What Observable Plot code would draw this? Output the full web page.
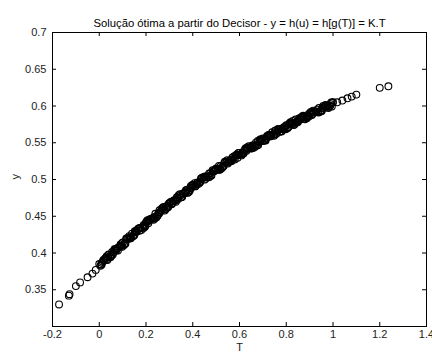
<!DOCTYPE html>
<html>
<head>
<meta charset="utf-8">
<script src="https://cdn.jsdelivr.net/npm/d3@7"></script>
<script src="https://cdn.jsdelivr.net/npm/@observablehq/plot@0.6"></script>
<style>
  html, body { margin: 0; padding: 0; background: #fff; }
</style>
</head>
<body>
<div id="chart"></div>
<script>
const titleText = "Solução ótima a partir do Decisor - y = h(u) = h[g(T)] = K.T";
const xLabel = "T";
const yLabel = "y";
const xTicks = [-0.2, 0, 0.2, 0.4, 0.6, 0.8, 1, 1.2, 1.4];
const yTicks = [0.35, 0.4, 0.45, 0.5, 0.55, 0.6, 0.65, 0.7];
const xDomain = [-0.2, 1.4];
const yDomain = [0.3, 0.7];

// sparse points at the low end
const tLow = [-0.172, -0.130, -0.127, -0.100, -0.082, -0.050, -0.029, -0.015];
const yLow = [0.330, 0.342, 0.344, 0.355, 0.360, 0.367, 0.372, 0.377];

// dense band, pass A
const tBandA = [0.00,0.01,0.02,0.03,0.04,0.05,0.06,0.07,0.08,0.09,
  0.10,0.11,0.12,0.13,0.14,0.15,0.16,0.17,0.18,0.19,
  0.20,0.21,0.22,0.23,0.24,0.25,0.26,0.27,0.28,0.29,
  0.30,0.31,0.32,0.33,0.34,0.35,0.36,0.37,0.38,0.39,
  0.40,0.41,0.42,0.43,0.44,0.45,0.46,0.47,0.48,0.49,
  0.50,0.51,0.52,0.53,0.54,0.55,0.56,0.57,0.58,0.59,
  0.60,0.61,0.62,0.63,0.64,0.65,0.66,0.67,0.68,0.69,
  0.70,0.71,0.72,0.73,0.74,0.75,0.76,0.77,0.78,0.79,
  0.80,0.81,0.82,0.83,0.84,0.85,0.86,0.87,0.88,0.89,
  0.90,0.91,0.92,0.93,0.94,0.95,0.96,0.97,0.98,0.99,1.00];
const yBandA = [0.3850,0.3840,0.3900,0.3910,0.3979,0.3958,0.4007,0.4056,0.4035,0.4104,
  0.4142,0.4130,0.4188,0.4196,0.4264,0.4242,0.4290,0.4337,0.4314,0.4381,
  0.4418,0.4405,0.4461,0.4468,0.4534,0.4510,0.4556,0.4602,0.4577,0.4643,
  0.4678,0.4663,0.4718,0.4723,0.4788,0.4762,0.4806,0.4850,0.4824,0.4888,
  0.4922,0.4906,0.4959,0.4962,0.5025,0.4998,0.5041,0.5084,0.5056,0.5118,
  0.5150,0.5132,0.5184,0.5186,0.5247,0.5218,0.5259,0.5300,0.5271,0.5332,
  0.5362,0.5342,0.5392,0.5392,0.5452,0.5422,0.5462,0.5501,0.5470,0.5529,
  0.5558,0.5537,0.5585,0.5584,0.5642,0.5610,0.5648,0.5686,0.5653,0.5710,
  0.5738,0.5715,0.5762,0.5759,0.5816,0.5782,0.5818,0.5854,0.5820,0.5876,
  0.5902,0.5878,0.5923,0.5918,0.5973,0.5938,0.5973,0.6008,0.5972,0.6026,0.6050];

// dense band, pass B
const tBandB = [0.005,0.025,0.045,0.065,0.085,0.105,0.125,0.145,0.165,0.185,
  0.205,0.225,0.245,0.265,0.285,0.305,0.325,0.345,0.365,0.385,
  0.405,0.425,0.445,0.465,0.485,0.505,0.525,0.545,0.565,0.585,
  0.605,0.625,0.645,0.665,0.685,0.705,0.725,0.745,0.765,0.785,
  0.805,0.825,0.845,0.865,0.885,0.905,0.925,0.945,0.965,0.985];
const yBandB = [0.3825,0.3925,0.3954,0.4052,0.4080,0.4106,0.4202,0.4228,0.4324,0.4348,
  0.4442,0.4465,0.4487,0.4579,0.4600,0.4691,0.4711,0.4800,0.4818,0.4836,
  0.4924,0.4941,0.5027,0.5043,0.5127,0.5141,0.5155,0.5238,0.5250,0.5332,
  0.5342,0.5422,0.5432,0.5442,0.5520,0.5528,0.5605,0.5611,0.5687,0.5692,
  0.5697,0.5771,0.5774,0.5846,0.5848,0.5920,0.5921,0.5921,0.5991,0.5989];

// dense band, pass C
const tBandC = [0.015,0.035,0.055,0.075,0.095,0.115,0.135,0.155,0.175,0.195,
  0.215,0.235,0.255,0.275,0.295,0.315,0.335,0.355,0.375,0.395,
  0.415,0.435,0.455,0.475,0.495,0.515,0.535,0.555,0.575,0.595,
  0.615,0.635,0.655,0.675,0.695,0.715,0.735,0.755,0.775,0.795,
  0.815,0.835,0.855,0.875,0.895,0.915,0.935,0.955,0.975,0.995];
const yBandC = [0.3885,0.3905,0.4013,0.4051,0.4098,0.4194,0.4200,0.4286,0.4341,0.4355,
  0.4458,0.4491,0.4533,0.4625,0.4626,0.4706,0.4756,0.4764,0.4862,0.4890,
  0.4928,0.5014,0.5010,0.5085,0.5129,0.5133,0.5227,0.5249,0.5281,0.5362,
  0.5352,0.5422,0.5462,0.5461,0.5549,0.5566,0.5593,0.5669,0.5655,0.5719,
  0.5754,0.5748,0.5830,0.5842,0.5864,0.5936,0.5916,0.5976,0.6005,0.5993];

// dense band, pass D
const tBandD = [0.012,0.032,0.052,0.072,0.092,0.112,0.132,0.152,0.172,0.192,
  0.212,0.232,0.252,0.272,0.292,0.312,0.332,0.352,0.372,0.392,
  0.412,0.432,0.452,0.472,0.492,0.512,0.532,0.552,0.572,0.592,
  0.612,0.632,0.652,0.672,0.692,0.712,0.732,0.752,0.772,0.792,
  0.812,0.832,0.852,0.872,0.892,0.912,0.932,0.952,0.972,0.992];
const yBandD = [0.3866,0.3956,0.3964,0.4032,0.4120,0.4126,0.4212,0.4298,0.4302,0.4366,
  0.4450,0.4453,0.4535,0.4617,0.4618,0.4678,0.4758,0.4757,0.4835,0.4913,
  0.4911,0.4967,0.5043,0.5038,0.5112,0.5186,0.5180,0.5232,0.5304,0.5296,
  0.5366,0.5436,0.5426,0.5475,0.5543,0.5531,0.5598,0.5664,0.5649,0.5694,
  0.5758,0.5742,0.5805,0.5867,0.5849,0.5891,0.5951,0.5931,0.5991,0.6049];

// dense band, pass E
const tBandE = [0.008,0.028,0.048,0.068,0.088,0.108,0.128,0.148,0.168,0.188,
  0.208,0.228,0.248,0.268,0.288,0.308,0.328,0.348,0.368,0.388,
  0.408,0.428,0.448,0.468,0.488,0.508,0.528,0.548,0.568,0.588,
  0.608,0.628,0.648,0.668,0.688,0.708,0.728,0.748,0.768,0.788,
  0.808,0.828,0.848,0.868,0.888,0.908,0.928,0.948,0.968,0.988];
const yBandE = [0.3844,0.3934,0.3942,0.4040,0.4088,0.4124,0.4230,0.4246,0.4332,0.4336,
  0.4430,0.4472,0.4505,0.4607,0.4618,0.4698,0.4698,0.4787,0.4825,0.4853,
  0.4951,0.4957,0.5033,0.5029,0.5114,0.5148,0.5172,0.5264,0.5266,0.5338,
  0.5328,0.5408,0.5438,0.5457,0.5545,0.5543,0.5610,0.5596,0.5672,0.5697,
  0.5712,0.5796,0.5789,0.5851,0.5833,0.5905,0.5925,0.5935,0.6015,0.6003];

// dense band, pass F
const tBandF = [0.018,0.038,0.058,0.078,0.098,0.118,0.138,0.158,0.178,0.198,
  0.218,0.238,0.258,0.278,0.298,0.318,0.338,0.358,0.378,0.398,
  0.418,0.438,0.458,0.478,0.498,0.518,0.538,0.558,0.578,0.598,
  0.618,0.638,0.658,0.678,0.698,0.718,0.738,0.758,0.778,0.798,
  0.818,0.838,0.858,0.878,0.898,0.918,0.938,0.958,0.978,0.998];
const yBandF = [0.3904,0.3943,0.3981,0.4069,0.4086,0.4202,0.4218,0.4304,0.4339,0.4373,
  0.4456,0.4469,0.4581,0.4592,0.4673,0.4703,0.4733,0.4811,0.4819,0.4927,
  0.4934,0.5010,0.5036,0.5062,0.5136,0.5140,0.5243,0.5245,0.5317,0.5338,
  0.5358,0.5428,0.5428,0.5526,0.5524,0.5591,0.5608,0.5624,0.5690,0.5684,
  0.5779,0.5773,0.5835,0.5847,0.5859,0.5920,0.5910,0.6000,0.5989,0.6047];

// separate points at the high end
const tHigh = [1.018, 1.040, 1.062, 1.080, 1.100, 1.200, 1.237];
const yHigh = [0.6050, 0.6074, 0.6105, 0.6128, 0.6155, 0.6247, 0.6268];

const points = [];
[[tLow, yLow], [tBandA, yBandA], [tBandB, yBandB], [tBandC, yBandC], [tBandD, yBandD],
 [tBandE, yBandE], [tBandF, yBandF], [tHigh, yHigh]].forEach(([ts, ys]) => {
  ts.forEach((t, i) => points.push({T: t, y: ys[i]}));
});

const W = 432, H = 354;
const mT = 32, mB = 28, mL = 52, mR = 6;
const innerH = H - mT - mB, innerW = W - mL - mR;
const tk = 4;
const textColor = "#222";

const chart = Plot.plot({
  width: W,
  height: H,
  marginTop: mT,
  marginBottom: mB,
  marginLeft: mL,
  marginRight: mR,
  style: {fontFamily: "'Liberation Sans', Arial, sans-serif", fontSize: "11px", background: "#fff", color: textColor},
  x: {domain: xDomain},
  y: {domain: yDomain},
  marks: [
    Plot.dot(points, {x: "T", y: "y", r: 3.4, stroke: "#000", fill: "none", strokeWidth: 1.1}),
    // inward ticks on all four sides
    Plot.tickX(xTicks, {x: d => d, insetTop: innerH - tk, stroke: "#000"}),
    Plot.tickX(xTicks, {x: d => d, insetBottom: innerH - tk, stroke: "#000"}),
    Plot.tickY(yTicks, {y: d => d, insetRight: innerW - tk, stroke: "#000"}),
    Plot.tickY(yTicks, {y: d => d, insetLeft: innerW - tk, stroke: "#000"}),
    Plot.axisX({ticks: xTicks, tickSize: 0, tickPadding: 4, tickFormat: d => String(d), label: null, fill: textColor}),
    Plot.axisY({ticks: yTicks, tickSize: 0, tickPadding: 6, tickFormat: d => String(d), label: null, fill: textColor}),
    Plot.frame({stroke: "#000"}),
    Plot.text([titleText], {frameAnchor: "top", dy: -14, fontSize: 11.3, fill: "#000"}),
    Plot.text([xLabel], {frameAnchor: "bottom", dy: 24, fontSize: 11, fill: textColor}),
    Plot.text([yLabel], {frameAnchor: "left", dx: -37, rotate: -90, fontSize: 11, fill: textColor})
  ]
});
document.getElementById("chart").appendChild(chart);
</script>
</body>
</html>
